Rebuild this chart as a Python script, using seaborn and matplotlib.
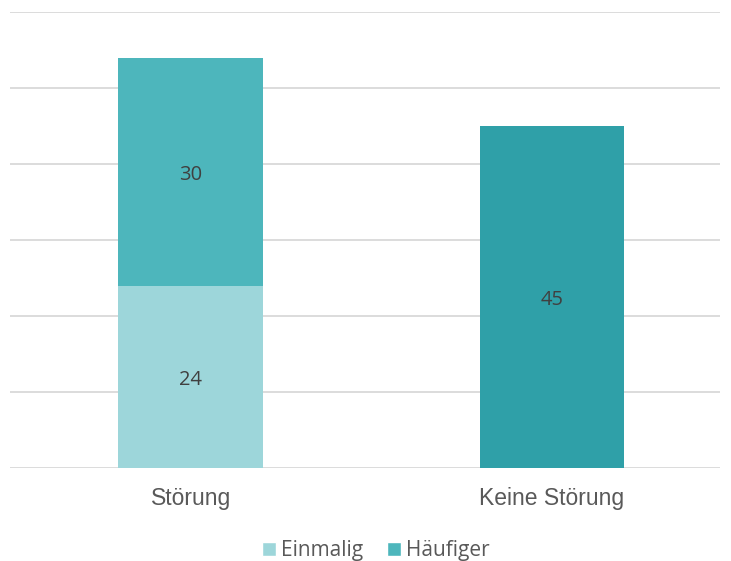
import matplotlib
matplotlib.use("Agg")
import matplotlib.pyplot as plt
from matplotlib.patches import Patch
import seaborn as sns

# Daten
kategorien = ["Störung", "Keine Störung"]
einmalig = [24, 0]
haeufiger = [30, 0]
keine = [0, 45]

farbe_einmalig = "#9DD6DA"
farbe_haeufiger = "#4DB6BC"
farbe_keine = "#2FA0A8"

sns.set_style("white")

fig = plt.figure(figsize=(7.31, 5.61), dpi=100)
ax = fig.add_axes([10 / 731, 93 / 561, 710 / 731, 456 / 561])

sns.barplot(x=kategorien, y=einmalig, color=farbe_einmalig, width=0.4,
            saturation=1, linewidth=0, ax=ax, zorder=3)
sns.barplot(x=kategorien, y=haeufiger, bottom=einmalig, color=farbe_haeufiger,
            width=0.4, saturation=1, linewidth=0, ax=ax, zorder=3)
sns.barplot(x=kategorien, y=keine, color=farbe_keine, width=0.4,
            saturation=1, linewidth=0, ax=ax, zorder=3)

# Datenbeschriftungen
for cont in ax.containers:
    labels = [f"{b.get_height():.0f}" if b.get_height() > 0 else "" for b in cont]
    anns = ax.bar_label(cont, labels=labels, label_type="center", fontsize=14.5,
                        color="#404040", family="Open Sans")
    for a in anns:
        a.xyann = (0, -2.5)

ax.set_ylim(0, 60)
ax.set_xlim(-0.5, 1.465)
ax.set_yticks(range(0, 61, 10))
ax.set_yticklabels([])
ax.yaxis.grid(True, color="#D9D9D9", linewidth=1.3, zorder=0)
ax.tick_params(axis="both", length=0)
ax.set_xticks([0, 1])
ax.set_xticklabels(kategorien, fontsize=16.5, color="#595959",
                   fontfamily="Liberation Sans")
ax.tick_params(axis="x", pad=13.5)
for s in ax.spines.values():
    s.set_visible(False)
ax.set_xlabel("")
ax.set_ylabel("")

handles = [Patch(facecolor=farbe_einmalig, label="Einmalig"),
           Patch(facecolor=farbe_haeufiger, label="Häufiger")]
leg = fig.legend(handles=handles, loc="center", bbox_to_anchor=(0.514, 10.5 / 561),
                 ncol=2, frameon=False, handlelength=0.67, handleheight=0.67,
                 handletextpad=0.25, columnspacing=1.15,
                 prop={"family": "Open Sans", "size": 15})
for t in leg.get_texts():
    t.set_color("#595959")

fig.savefig("out.png", dpi=100)
